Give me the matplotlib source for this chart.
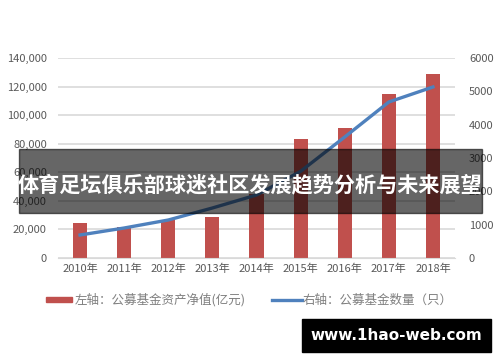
import matplotlib
matplotlib.use("Agg")
import matplotlib.pyplot as plt
from matplotlib.patches import Rectangle
from matplotlib.ticker import FuncFormatter

plt.rcParams['font.family'] = ['Noto Sans CJK SC', 'DejaVu Sans']

years = ["2010年", "2011年", "2012年", "2013年", "2014年", "2015年", "2016年", "2017年", "2018年"]
net_assets = [24500, 21500, 26800, 28700, 44500, 83300, 91000, 114800, 128800]
fund_count = [690, 900, 1140, 1500, 1890, 2600, 3630, 4680, 5130]
left_ticks = [0, 20000, 40000, 60000, 80000, 100000, 120000, 140000]
right_ticks = [0, 1000, 2000, 3000, 4000, 5000, 6000]
legend_left = "左轴：公募基金资产净值(亿元)"
legend_right = "右轴：公募基金数量（只）"
title = "体育足坛俱乐部球迷社区发展趋势分析与未来展望"
watermark = "www.1hao-web.com"

bar_color = "#C0504D"
line_color = "#4F81BD"
tick_color = "#595959"

fig = plt.figure(figsize=(5, 3.62), dpi=100)
ax = fig.add_axes([0.116, 0.2873, 0.794, 0.5525])
ax2 = ax.twinx()

x = list(range(len(years)))
ax.bar(x, net_assets, width=0.32, color=bar_color, zorder=2)
ax.set_xlim(-0.5, len(years) - 0.5)
ax.set_ylim(0, 140000)
ax.set_yticks(left_ticks)
ax.yaxis.set_major_formatter(FuncFormatter(lambda v, p: f"{int(v):,}"))
ax.set_xticks(x)
ax.set_xticklabels(years)
ax.grid(axis='y', color="#D9D9D9", linewidth=1.2, zorder=0)
ax.set_axisbelow(True)

ax2.plot(x, fund_count, color=line_color, linewidth=2.4, zorder=3)
ax2.set_ylim(0, 6000)
ax2.set_yticks(right_ticks)

for a in (ax, ax2):
    for s in a.spines.values():
        s.set_visible(False)
    a.tick_params(length=0, labelsize=8, colors=tick_color)
ax.tick_params(axis='y', pad=8)
ax2.tick_params(axis='y', pad=10)
ax.tick_params(axis='x', pad=4)
ax.spines['bottom'].set_visible(True)
ax.spines['bottom'].set_color("#D9D9D9")

# legend (figure coords)
fig.patches.append(Rectangle((46/500, 1-302/362), 26/500, 5/362, transform=fig.transFigure,
                             color=bar_color))
fig.text(75/500, 1-300/362, legend_left, fontsize=9, color="#7F7F7F", va='center', ha='left')
fig.lines.append(plt.Line2D([272/500, 302/500], [1-300/362, 1-300/362], transform=fig.transFigure,
                            color=line_color, linewidth=2.4))
fig.text(303/500, 1-300/362, legend_right, fontsize=9, color="#7F7F7F", va='center', ha='left')

# title band
fig.patches.append(Rectangle((19/500, 1-213/362), 463/500, 64/362, transform=fig.transFigure,
                             color="black", alpha=0.6, zorder=10))
fig.text(0.5, 1-185/362, title, fontsize=15.2, fontweight='bold', color="white",
         ha='center', va='center', zorder=11)

# watermark
fig.patches.append(Rectangle((302/500, 1-352/362), 189/500, 33/362, transform=fig.transFigure,
                             color="black", zorder=10))
fig.text(396/500, 1-336/362, watermark, fontsize=11, fontweight='bold', color="white",
         ha='center', va='center', zorder=11, family=['DejaVu Sans'])

fig.savefig("out.png", dpi=100)
